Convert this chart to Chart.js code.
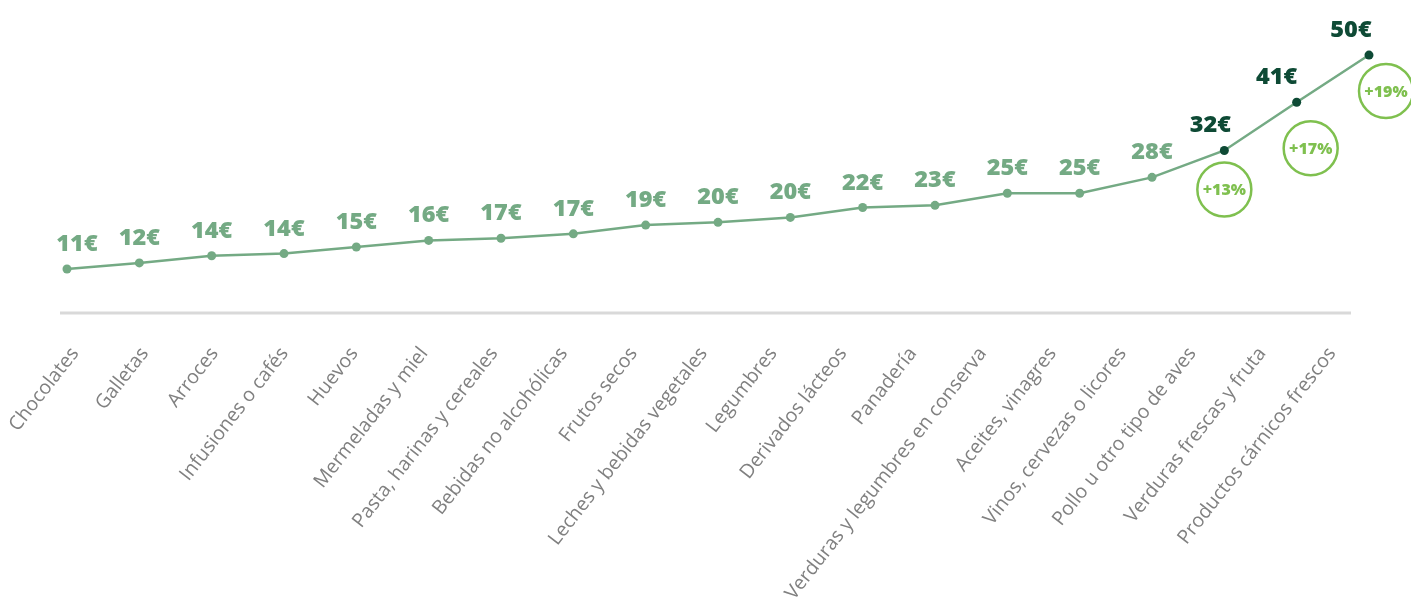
<!DOCTYPE html>
<html>
<head>
<meta charset="utf-8">
<script src="https://cdn.jsdelivr.net/npm/chart.js@4/dist/chart.umd.min.js"></script>
<style>
  html, body { margin: 0; padding: 0; background: #fff; }
  #wrap { width: 1411px; height: 602px; }
</style>
</head>
<body>
<div id="wrap"><canvas id="grafico"></canvas></div>
<script>
// datos
const categorias = [
  'Chocolates', 'Galletas', 'Arroces', 'Infusiones o cafés', 'Huevos',
  'Mermeladas y miel', 'Pasta, harinas y cereales', 'Bebidas no alcohólicas',
  'Frutos secos', 'Leches y bebidas vegetales', 'Legumbres', 'Derivados lácteos',
  'Panadería', 'Verduras y legumbres en conserva', 'Aceites, vinagres',
  'Vinos, cervezas o licores', 'Pollo u otro tipo de aves',
  'Verduras frescas y fruta', 'Productos cárnicos frescos'
];
const precios = [11.0, 12.1, 13.4, 13.8, 15.0, 16.2, 16.6, 17.4, 19.0, 19.5,
                 20.4, 22.2, 22.6, 24.8, 24.8, 27.7, 32.6, 41.4, 50.0];
const etiquetas = ['11€', '12€', '14€', '14€', '15€', '16€', '17€', '17€', '19€', '20€',
                   '20€', '22€', '23€', '25€', '25€', '28€', '32€', '41€', '50€'];
const subidas = [null, null, null, null, null, null, null, null, null, null,
                 null, null, null, null, null, null, '+13%', '+17%', '+19%'];

const verdeClaro = '#74aa84';
const verdeOscuro = '#0e4a35';
const verdeLima = '#7fc04f';

const destacado = subidas.map(s => s !== null);

const plugins = [{
  id: 'lineaBase',
  beforeDatasetsDraw(chart) {
    const { ctx, chartArea } = chart;
    ctx.save();
    ctx.strokeStyle = '#d9d9d9';
    ctx.lineWidth = 3;
    ctx.beginPath();
    ctx.moveTo(chartArea.left - 7, chartArea.bottom);
    ctx.lineTo(chartArea.right - 18, chartArea.bottom);
    ctx.stroke();
    ctx.restore();
  }
}, {
  // las etiquetas del eje van un poco mas juntas que los puntos
  id: 'etiquetasEje',
  afterDraw(chart) {
    const { ctx, chartArea } = chart;
    const x = chart.scales.x;
    ctx.save();
    ctx.font = '400 19.5px "Open Sans"';
    ctx.fillStyle = '#808080';
    ctx.textAlign = 'right';
    ctx.textBaseline = 'middle';
    categorias.forEach((c, i) => {
      const px = x.getPixelForTick(i) + 8 - 2.5 * i;
      ctx.save();
      ctx.translate(px, chartArea.bottom + 37);
      ctx.rotate(-52 * Math.PI / 180);
      ctx.fillText(c, 0, 0);
      ctx.restore();
    });
    ctx.restore();
  }
}, {
  id: 'etiquetasValor',
  afterDatasetsDraw(chart) {
    const { ctx } = chart;
    const puntos = chart.getDatasetMeta(0).data;
    // pequeños desplazamientos como en el original
    const dx = { 0: 10, 16: -14, 17: -20, 18: -18 };
    ctx.save();
    ctx.textAlign = 'center';
    ctx.textBaseline = 'alphabetic';
    ctx.font = '800 23.5px "Open Sans"';
    puntos.forEach((p, i) => {
      ctx.fillStyle = destacado[i] ? verdeOscuro : verdeClaro;
      ctx.fillText(etiquetas[i], p.x + (dx[i] || 0), p.y - 18);
    });

    // circulos con la subida
    const off = { 16: [0, 39], 17: [14, 46], 18: [17, 36] };
    ctx.font = '800 16px "Open Sans"';
    ctx.textBaseline = 'middle';
    puntos.forEach((p, i) => {
      if (!subidas[i]) return;
      const cx = p.x + off[i][0];
      const cy = p.y + off[i][1];
      ctx.beginPath();
      ctx.arc(cx, cy, 27, 0, Math.PI * 2);
      ctx.strokeStyle = verdeLima;
      ctx.lineWidth = 2.5;
      ctx.stroke();
      ctx.fillStyle = verdeLima;
      ctx.fillText(subidas[i], cx, cy + 1);
    });
    ctx.restore();
  }
}];

new Chart(document.getElementById('grafico'), {
  type: 'line',
  data: {
    labels: categorias,
    datasets: [{
      data: precios,
      borderColor: verdeClaro,
      borderWidth: 2.5,
      tension: 0,
      pointRadius: 4.5,
      pointHoverRadius: 4.5,
      pointBackgroundColor: destacado.map(d => d ? verdeOscuro : verdeClaro),
      pointBorderWidth: 0,
      clip: false
    }]
  },
  options: {
    responsive: true,
    maintainAspectRatio: false,
    animation: false,
    layout: { padding: { left: 67, right: 42, top: 0, bottom: 0 } },
    plugins: { legend: { display: false }, tooltip: { enabled: false } },
    scales: {
      y: { display: false, min: 2.97, max: 59.22 },
      x: {
        offset: false,
        grid: { display: false },
        border: { display: false },
        ticks: { display: false },
        afterFit(scale) {
          scale.height = 289;
          scale.paddingLeft = 0;
          scale.paddingRight = 0;
        }
      }
    }
  },
  plugins
});
</script>
</body>
</html>
